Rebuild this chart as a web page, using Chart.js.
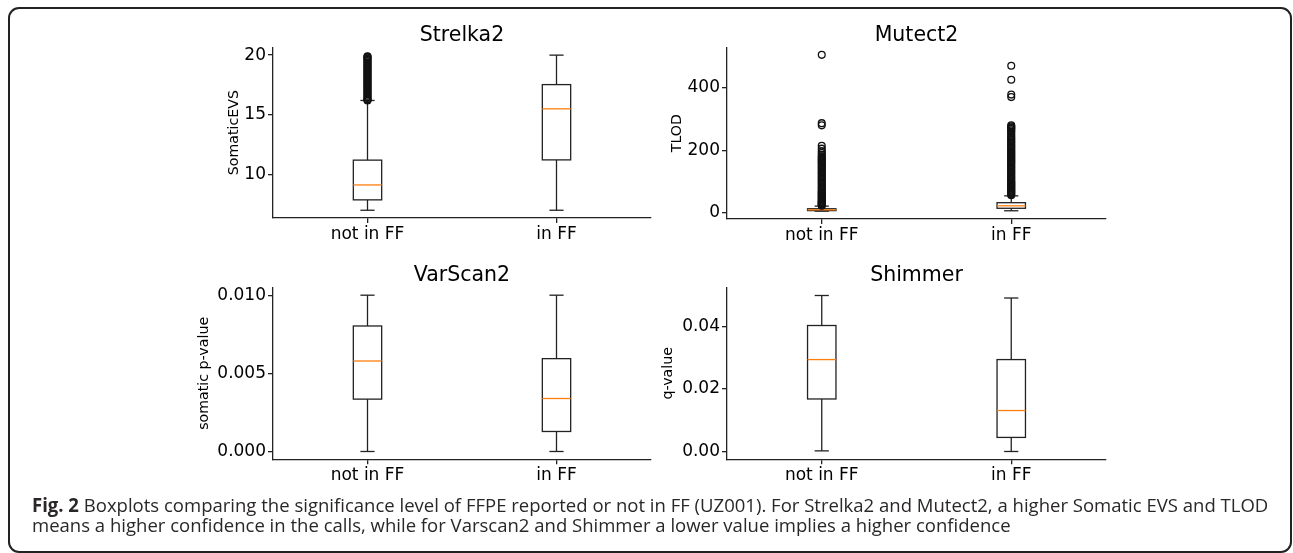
<!DOCTYPE html>
<html>
<head>
<meta charset="utf-8">
<script src="https://cdn.jsdelivr.net/npm/chart.js@4/dist/chart.umd.min.js"></script>
<style>
  html, body { margin: 0; padding: 0; background: #fff; }
  body { width: 1293px; height: 553px; position: relative; overflow: hidden; }
  canvas { position: absolute; left: 0; top: 0; }
  #frame {
    position: absolute; left: 8px; top: 7px; width: 1284px; height: 546px;
    box-sizing: border-box; border: 2px solid #222; border-radius: 11px;
  }
  .cap {
    position: absolute; left: 32px; white-space: nowrap;
    font-family: "Open Sans", sans-serif; font-size: 19px; line-height: 20px;
    color: #2a2728; transform-origin: 0 0;
  }
  .cap b { font-weight: 700; }
</style>
</head>
<body>
<div id="frame"></div>
<canvas id="strelka" width="1293" height="553"></canvas>
<canvas id="mutect" width="1293" height="553"></canvas>
<canvas id="varscan" width="1293" height="553"></canvas>
<canvas id="shimmer" width="1293" height="553"></canvas>
<div class="cap" id="cap1" style="top:495px"><b>Fig. 2</b> Boxplots comparing the significance level of FFPE reported or not in FF (UZ001). For Strelka2 and Mutect2, a higher Somatic EVS and TLOD</div>
<div class="cap" id="cap2" style="top:515px">means a higher confidence in the calls, while for Varscan2 and Shimmer a lower value implies a higher confidence</div>
<script>
// categorias
const categories = ['not in FF', 'in FF'];

// [whisker baixo, Q1, mediana, Q3, whisker alto]
const strelkaNotFF = [7, 7.87, 9.12, 11.2, 16.2];
const strelkaInFF = [7, 11.22, 15.5, 17.53, 20];
const mutectNotFF = [3.7, 5.5, 8, 11.5, 20];
const mutectInFF = [5, 13, 21, 31, 53];
const varscanNotFF = [0, 0.00335, 0.00579, 0.00803, 0.01];
const varscanInFF = [0, 0.00128, 0.00339, 0.00594, 0.01];
const shimmerNotFF = [0.0002, 0.0168, 0.0294, 0.0403, 0.0499];
const shimmerInFF = [0, 0.0045, 0.0131, 0.0294, 0.0491];

// outliers
const strelkaOutNotFF = [16.2, 16.25, 16.3, 16.4, 16.5, 16.6, 16.7, 16.8, 16.9, 17.0, 17.1, 17.2, 17.3,
  17.4, 17.5, 17.6, 17.7, 17.8, 17.9, 18.0, 18.1, 18.2, 18.3, 18.4, 18.5, 18.6, 18.7, 18.8, 18.9, 19.0,
  19.1, 19.2, 19.3, 19.4, 19.5, 19.6, 19.7, 19.8, 19.85, 19.9];
const strelkaOutInFF = [];
const mutectOutNotFF = [21, 23, 25, 27, 29, 31, 33, 35, 38, 41, 44, 47, 50, 53, 56, 59, 62, 65, 68, 72,
  76, 80, 84, 88, 92, 96, 100, 104, 108, 112, 116, 120, 124, 128, 132, 136, 140, 144, 148, 152, 156,
  160, 164, 168, 172, 176, 180, 185, 191, 197, 205, 214, 280, 287, 507];
const mutectOutInFF = [55, 58, 61, 64, 67, 70, 73, 76, 79, 82, 85, 88, 91, 94, 97, 100, 104, 108, 112,
  116, 120, 124, 128, 132, 136, 140, 144, 148, 152, 156, 160, 164, 168, 172, 176, 180, 184, 188, 192,
  196, 200, 204, 208, 212, 216, 220, 224, 228, 232, 236, 240, 245, 250, 255, 260, 264, 268, 271, 274,
  277, 280, 371, 379, 427, 472];
const varscanOutNotFF = [];
const varscanOutInFF = [];
const shimmerOutNotFF = [];
const shimmerOutInFF = [];

// ticks do eixo y
const strelkaTicks = [10, 15, 20];
const strelkaTickLabels = ['10', '15', '20'];
const mutectTicks = [0, 200, 400];
const mutectTickLabels = ['0', '200', '400'];
const varscanTicks = [0, 0.005, 0.01];
const varscanTickLabels = ['0.000', '0.005', '0.010'];
const shimmerTicks = [0, 0.02, 0.04];
const shimmerTickLabels = ['0.00', '0.02', '0.04'];

const BOX_W = 0.15;
const LINE = '#222';
const FONT = 'DejaVu Sans';

// desenha caixas, whiskers e medianas usando as escalas do Chart.js
const boxPlugin = {
  id: 'boxes',
  beforeDatasetsDraw(chart, args, opts) {
    const { ctx, scales: { x, y } } = chart;
    ctx.save();
    ctx.lineWidth = 1.3;
    opts.stats.forEach((s, i) => {
      const pos = i + 1;
      const [lo, q1, med, q3, hi] = s;
      const xl = x.getPixelForValue(pos - BOX_W / 2);
      const xr = x.getPixelForValue(pos + BOX_W / 2);
      const xc = x.getPixelForValue(pos);
      const cl = x.getPixelForValue(pos - BOX_W / 4);
      const cr = x.getPixelForValue(pos + BOX_W / 4);
      const line = (x1, y1, x2, y2) => { ctx.beginPath(); ctx.moveTo(x1, y1); ctx.lineTo(x2, y2); ctx.stroke(); };
      ctx.strokeStyle = LINE;
      ctx.strokeRect(xl, y.getPixelForValue(q3), xr - xl, y.getPixelForValue(q1) - y.getPixelForValue(q3));
      line(xc, y.getPixelForValue(q1), xc, y.getPixelForValue(lo));
      line(xc, y.getPixelForValue(q3), xc, y.getPixelForValue(hi));
      line(cl, y.getPixelForValue(lo), cr, y.getPixelForValue(lo));
      line(cl, y.getPixelForValue(hi), cr, y.getPixelForValue(hi));
      ctx.strokeStyle = '#ff7f0e';
      line(xl, y.getPixelForValue(med), xr, y.getPixelForValue(med));
    });
    ctx.restore();
  }
};

function makePanel(id, p) {
  return new Chart(document.getElementById(id), {
    type: 'scatter',
    data: {
      datasets: p.outliers.map((vals, i) => ({
        data: vals.map(v => ({ x: i + 1, y: v })),
        pointRadius: 3.4,
        pointBorderWidth: 1.3,
        borderColor: '#111',
        backgroundColor: 'rgba(0,0,0,0)'
      }))
    },
    plugins: [boxPlugin],
    options: {
      responsive: false,
      animation: false,
      devicePixelRatio: 1,
      layout: { padding: p.padding },
      plugins: {
        legend: { display: false },
        tooltip: { enabled: false },
        title: {
          display: true,
          text: p.title,
          fullSize: false,
          color: '#000',
          padding: 0,
          font: { family: FONT, size: 20.5, weight: 'normal', lineHeight: 1.15 }
        },
        boxes: { stats: p.stats }
      },
      scales: {
        x: {
          type: 'linear',
          min: 0.5,
          max: 2.5,
          afterBuildTicks: s => { s.ticks = [{ value: 1 }, { value: 2 }]; },
          afterFit: s => { s.height = 40; },
          ticks: {
            callback: v => categories[v - 1],
            color: '#000',
            padding: 1,
            maxRotation: 0,
            autoSkip: false,
            font: { family: FONT, size: 17 }
          },
          grid: { drawOnChartArea: false, drawTicks: true, tickLength: 5, color: LINE, lineWidth: 1.3 },
          border: { display: true, color: LINE, width: 1.3 }
        },
        y: {
          min: p.yMin,
          max: p.yMax,
          afterBuildTicks: s => { s.ticks = p.ticks.map(v => ({ value: v })); },
          afterFit: s => { s.width = p.yWidth; },
          ticks: {
            callback: (v, i) => p.tickLabels[i],
            color: '#000',
            padding: 2,
            font: { family: FONT, size: 17 }
          },
          title: {
            display: true,
            text: p.yLabel,
            color: '#000',
            padding: 0,
            font: { family: FONT, size: 14.2, lineHeight: 1.2 }
          },
          grid: { drawOnChartArea: false, drawTicks: true, tickLength: 5, color: LINE, lineWidth: 1.3 },
          border: { display: true, color: LINE, width: 1.3 }
        }
      }
    }
  });
}

// Strelka2
makePanel('strelka', {
  title: 'Strelka2', yLabel: 'SomaticEVS',
  stats: [strelkaNotFF, strelkaInFF], outliers: [strelkaOutNotFF, strelkaOutInFF],
  ticks: strelkaTicks, tickLabels: strelkaTickLabels, yMin: 6.35, yMax: 20.65,
  yWidth: 47.6, padding: { left: 225.4, right: 642, top: 23.8, bottom: 295 }
});

// Mutect2
makePanel('mutect', {
  title: 'Mutect2', yLabel: 'TLOD',
  stats: [mutectNotFF, mutectInFF], outliers: [mutectOutNotFF, mutectOutInFF],
  ticks: mutectTicks, tickLabels: mutectTickLabels, yMin: -21.5, yMax: 531,
  yWidth: 57.9, padding: { left: 669.1, right: 187, top: 23.8, bottom: 294 }
});

// VarScan2
makePanel('varscan', {
  title: 'VarScan2', yLabel: 'somatic p-value',
  stats: [varscanNotFF, varscanInFF], outliers: [varscanOutNotFF, varscanOutInFF],
  ticks: varscanTicks, tickLabels: varscanTickLabels, yMin: -0.0005, yMax: 0.0105,
  yWidth: 77.1, padding: { left: 195.9, right: 642, top: 263.8, bottom: 53.7 }
});

// Shimmer
makePanel('shimmer', {
  title: 'Shimmer', yLabel: 'q-value',
  stats: [shimmerNotFF, shimmerInFF], outliers: [shimmerOutNotFF, shimmerOutInFF],
  ticks: shimmerTicks, tickLabels: shimmerTickLabels, yMin: -0.0025, yMax: 0.0525,
  yWidth: 67.1, padding: { left: 659.9, right: 187, top: 263.8, bottom: 53.7 }
});

// legenda: ajusta a largura da fonte condensada
const cap1 = document.getElementById('cap1');
const cap2 = document.getElementById('cap2');
const k = 1236 / cap1.offsetWidth;
cap1.style.transform = `scaleX(${k})`;
cap2.style.transform = `scaleX(${k})`;
</script>
</body>
</html>
